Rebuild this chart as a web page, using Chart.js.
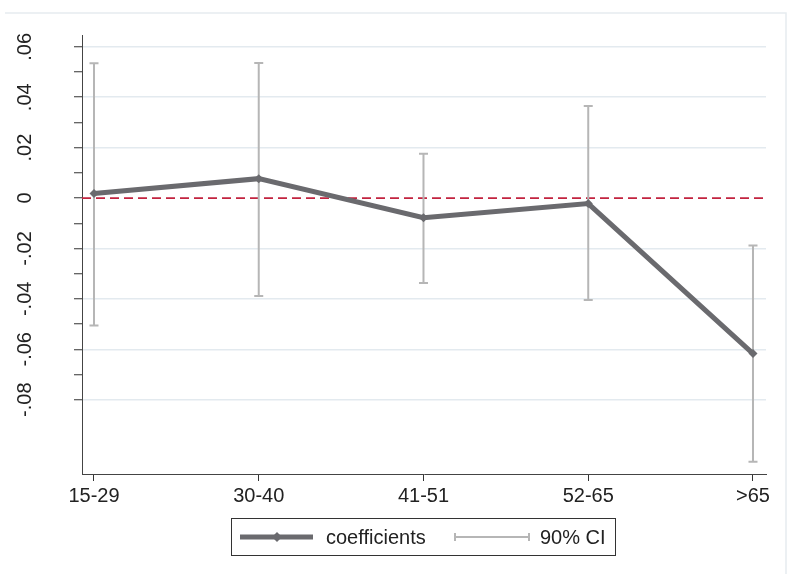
<!DOCTYPE html>
<html><head><meta charset="utf-8">
<script src="https://cdn.jsdelivr.net/npm/chart.js@4/dist/chart.umd.min.js"></script>
<style>html,body{margin:0;padding:0;background:#fff;}#wrap{width:787px;height:574px;position:relative;}</style>
</head><body><div id="wrap"><canvas id="c" width="787" height="574"></canvas></div>
<script>
const categories = ['15-29', '30-40', '41-51', '52-65', '>65'];
const coefficients = [0.0018, 0.0077, -0.0078, -0.0022, -0.0617];
const ciLow = [-0.0506, -0.0389, -0.0337, -0.0405, -0.1046];
const ciHigh = [0.0535, 0.0536, 0.0176, 0.0365, -0.0188];
const yTicks = [-0.08, -0.07, -0.06, -0.05, -0.04, -0.03, -0.02, -0.01, 0, 0.01, 0.02, 0.03, 0.04, 0.05, 0.06];
const yMajorTicks = [-0.08, -0.06, -0.04, -0.02, 0, 0.02, 0.04, 0.06];
const yMajorLabels = ['-.08', '-.06', '-.04', '-.02', '0', '.02', '.04', '.06'];
const legendLabels = ['coefficients', '90% CI'];

const FONT = '"Liberation Sans", Arial, sans-serif';
const LINE_COLOR = '#6a6a6e';
const CI_COLOR = '#b6b6b6';
const isMajor = v => yMajorTicks.some(m => Math.abs(m - v) < 1e-9);

const helpers = {
  id: 'helpers',
  beforeDatasetsDraw(chart) {
    const {ctx, chartArea: a, scales: {x, y}} = chart;
    ctx.save();
    // zero reference line
    const y0 = y.getPixelForValue(0);
    ctx.strokeStyle = '#c2233f';
    ctx.lineWidth = 1.8;
    ctx.setLineDash([9, 5]);
    ctx.beginPath(); ctx.moveTo(a.left, y0); ctx.lineTo(a.right, y0); ctx.stroke();
    ctx.setLineDash([]);
    // confidence intervals
    ctx.strokeStyle = CI_COLOR;
    ctx.lineWidth = 2;
    categories.forEach((c, i) => {
      const px = x.getPixelForValue(i);
      const lo = y.getPixelForValue(ciLow[i]);
      const hi = y.getPixelForValue(ciHigh[i]);
      ctx.beginPath();
      ctx.moveTo(px, lo); ctx.lineTo(px, hi);
      ctx.moveTo(px - 4.5, lo); ctx.lineTo(px + 4.5, lo);
      ctx.moveTo(px - 4.5, hi); ctx.lineTo(px + 4.5, hi);
      ctx.stroke();
    });
    ctx.restore();
  },
  afterDraw(chart) {
    const {ctx, scales: {y}} = chart;
    ctx.save();
    // outer frame (faint)
    ctx.strokeStyle = '#e6ecf0';
    ctx.lineWidth = 1.5;
    ctx.beginPath(); ctx.moveTo(5, 13); ctx.lineTo(786, 13); ctx.lineTo(786, 574); ctx.stroke();
    // rotated y labels
    ctx.fillStyle = '#222';
    ctx.font = '20px ' + FONT;
    ctx.textAlign = 'center';
    ctx.textBaseline = 'middle';
    yMajorTicks.forEach((v, i) => {
      const py = y.getPixelForValue(v);
      ctx.save();
      ctx.translate(25, py);
      ctx.rotate(-Math.PI / 2);
      ctx.fillText(yMajorLabels[i], 0, 0);
      ctx.restore();
    });
    // legend
    const bx = 231, by = 518, bw = 384, bh = 37;
    ctx.fillStyle = '#fff';
    ctx.fillRect(bx, by, bw, bh);
    ctx.strokeStyle = '#333';
    ctx.lineWidth = 1;
    ctx.strokeRect(bx + 0.5, by + 0.5, bw, bh);
    const ly = by + bh / 2 + 0.5;
    ctx.strokeStyle = LINE_COLOR;
    ctx.lineWidth = 5;
    ctx.beginPath(); ctx.moveTo(240, ly); ctx.lineTo(313, ly); ctx.stroke();
    ctx.fillStyle = LINE_COLOR;
    ctx.beginPath(); ctx.moveTo(277, ly - 5); ctx.lineTo(282, ly); ctx.lineTo(277, ly + 5); ctx.lineTo(272, ly); ctx.closePath(); ctx.fill();
    ctx.strokeStyle = CI_COLOR;
    ctx.lineWidth = 2;
    ctx.beginPath();
    ctx.moveTo(455, ly); ctx.lineTo(529, ly);
    ctx.moveTo(455, ly - 4); ctx.lineTo(455, ly + 4);
    ctx.moveTo(529, ly - 4); ctx.lineTo(529, ly + 4);
    ctx.stroke();
    ctx.fillStyle = '#222';
    ctx.font = '20px ' + FONT;
    ctx.textAlign = 'left';
    ctx.textBaseline = 'middle';
    ctx.fillText(legendLabels[0], 326, ly + 1);
    ctx.fillText(legendLabels[1], 540, ly + 1);
    ctx.restore();
  }
};

new Chart(document.getElementById('c'), {
  type: 'line',
  data: {
    datasets: [{
      label: legendLabels[0],
      data: coefficients.map((v, i) => ({x: i, y: v})),
      borderColor: LINE_COLOR,
      backgroundColor: LINE_COLOR,
      borderWidth: 5,
      tension: 0,
      pointStyle: 'rectRot',
      pointRadius: 4.5,
      pointBorderWidth: 0,
      pointBackgroundColor: LINE_COLOR,
      fill: false
    }]
  },
  options: {
    responsive: false,
    devicePixelRatio: 1,
    animation: false,
    layout: {padding: {top: 35, right: 21, left: 0, bottom: 0}},
    plugins: {legend: {display: false}, tooltip: {enabled: false}},
    scales: {
      x: {
        type: 'linear',
        min: -0.0728,
        max: 4.079,
        afterBuildTicks: s => { s.ticks = categories.map((c, i) => ({value: i})); },
        afterFit: s => { s.height = 100; },
        ticks: {
          callback: v => categories[v],
          font: {size: 20, family: FONT},
          color: '#222',
          padding: 3,
          maxRotation: 0,
          autoSkip: false
        },
        grid: {drawOnChartArea: false, tickLength: 7, tickColor: '#333', tickWidth: 1},
        border: {color: '#444', width: 1}
      },
      y: {
        type: 'linear',
        min: -0.1095,
        max: 0.0647,
        afterBuildTicks: s => { s.ticks = yTicks.map(v => ({value: v})); },
        afterFit: s => { s.width = 82; },
        ticks: {display: false},
        grid: {
          color: c => (c.tick && isMajor(c.tick.value) && Math.abs(c.tick.value) > 1e-9) ? '#e3eaef' : 'rgba(0,0,0,0)',
          lineWidth: 1.5,
          tickLength: 8,
          tickColor: '#333',
          tickWidth: 1
        },
        border: {color: '#444', width: 1}
      }
    }
  },
  plugins: [helpers]
});
</script></body></html>
